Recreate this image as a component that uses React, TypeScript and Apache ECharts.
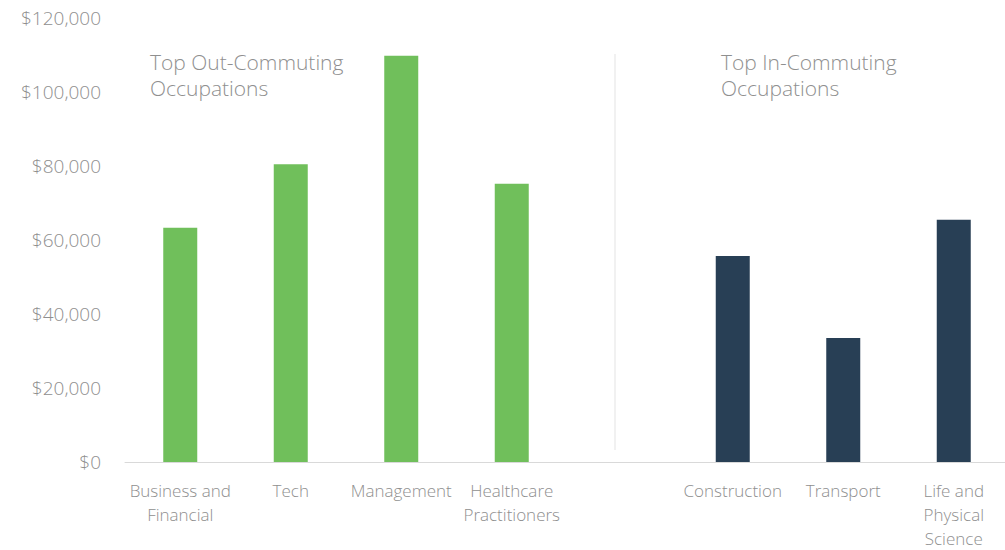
import React, { useEffect, useRef } from "react";
import * as echarts from "echarts";

const categories = [
  "Business and\nFinancial",
  "Tech",
  "Management",
  "Healthcare\nPractitioners",
  "",
  "Construction",
  "Transport",
  "Life and\nPhysical\nScience",
];
const outCommuting = [63300, 80500, 109800, 75200, null, null, null, null];
const inCommuting = [null, null, null, null, null, 55700, 33500, 65500];
const yTicks = { min: 0, max: 120000, interval: 20000 };
const titleOut = "Top Out-Commuting\nOccupations";
const titleIn = "Top In-Commuting\nOccupations";

const FONT = "'Open Sans', sans-serif";
const GRAY = "#8f8f8f";

export default function App() {
  const ref = useRef<HTMLDivElement>(null);
  useEffect(() => {
    if (!ref.current) return;
    const chart = echarts.init(ref.current, null, { renderer: "svg" });
    chart.setOption({
      animation: false,
      backgroundColor: "#ffffff",
      grid: {
        left: 125,
        top: 18,
        width: 884,
        height: 444,
        containLabel: false,
        outerBoundsMode: "none",
      },
      xAxis: {
        type: "category",
        data: categories,
        axisLine: { show: true, lineStyle: { color: "#d9d9d9", width: 1 } },
        axisTick: { show: false },
        axisLabel: {
          interval: 0,
          color: GRAY,
          fontFamily: FONT,
          fontSize: 17,
          lineHeight: 24,
          margin: 16,
          fontWeight: 300,
        },
      },
      yAxis: {
        type: "value",
        min: yTicks.min,
        max: yTicks.max,
        interval: yTicks.interval,
        splitLine: { show: false },
        axisLine: { show: false },
        axisTick: { show: false },
        axisLabel: {
          color: GRAY,
          fontFamily: FONT,
          fontSize: 19,
          margin: 24,
          fontWeight: 300,
          formatter: (v: number) => "$" + v.toLocaleString("en-US"),
        },
      },
      graphic: [
        {
          type: "line",
          shape: { x1: 615, y1: 54, x2: 615, y2: 450 },
          style: { stroke: "#ececec", lineWidth: 1.5 },
        },
        {
          type: "text",
          left: 150,
          top: 49,
          style: {
            text: titleOut,
            fill: GRAY,
            font: `300 21px ${FONT}`,
            lineHeight: 26,
          },
        },
        {
          type: "text",
          left: 721,
          top: 49,
          style: {
            text: titleIn,
            fill: GRAY,
            font: `300 21px ${FONT}`,
            lineHeight: 26,
          },
        },
      ],
      series: [
        {
          type: "bar",
          data: outCommuting,
          barWidth: 34,
          barGap: "-100%",
          itemStyle: { color: "#70bf5b" },
        },
        {
          type: "bar",
          data: inCommuting,
          barWidth: 34,
          barGap: "-100%",
          itemStyle: { color: "#283f55" },
        },
      ],
    });
    return () => chart.dispose();
  }, []);
  return (
    <div
      ref={ref}
      style={{ position: "absolute", left: 0, top: 0, width: 1005, height: 550 }}
    />
  );
}
